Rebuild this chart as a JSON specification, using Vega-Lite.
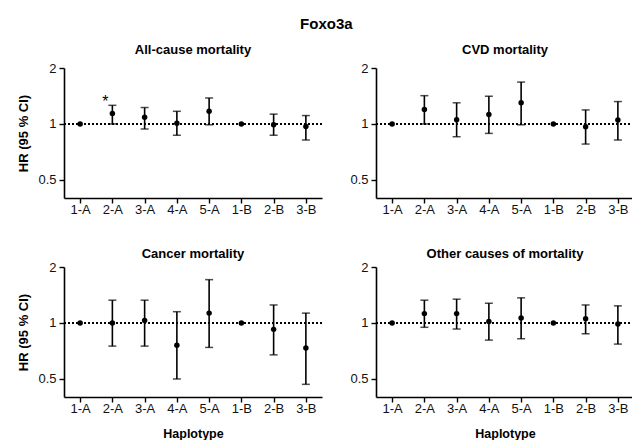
{
  "$schema": "https://vega.github.io/schema/vega-lite/v6.json",
  "padding": {"left": 17, "top": 17, "right": 0, "bottom": 0},
  "title": {"text": "Foxo3a", "fontSize": 15, "font": "Liberation Sans", "fontWeight": "bold", "anchor": "middle", "color": "black", "offset": 12},
  "config": {
    "view": {"stroke": null},
    "font": "Liberation Sans",
    "axis": {"domainColor": "black", "domainWidth": 1.6, "tickColor": "black", "tickWidth": 1.4, "tickSize": 5, "labelColor": "#111", "labelFont": "Liberation Sans", "labelFontSize": 13, "titleFont": "Liberation Sans", "titleFontSize": 13, "titleFontWeight": "bold", "titleColor": "black", "grid": false, "labelPadding": 3},
    "axisY": {"titlePadding": 7},
    "axisX": {"labelPadding": 0, "titlePadding": 12, "titleFontSize": 12.5},
    "title": {"font": "Liberation Sans", "fontSize": 13, "fontWeight": "bold", "color": "black", "offset": 5}
  },
  "datasets": {
    "hr": [
      {"cause": "All-cause mortality", "hap": "1-A", "hr": 1.0, "lo": null, "hi": null},
      {"cause": "All-cause mortality", "hap": "2-A", "hr": 1.14, "lo": 1.0, "hi": 1.26},
      {"cause": "All-cause mortality", "hap": "3-A", "hr": 1.087, "lo": 0.94, "hi": 1.226},
      {"cause": "All-cause mortality", "hap": "4-A", "hr": 1.01, "lo": 0.87, "hi": 1.17},
      {"cause": "All-cause mortality", "hap": "5-A", "hr": 1.17, "lo": 0.99, "hi": 1.38},
      {"cause": "All-cause mortality", "hap": "1-B", "hr": 1.0, "lo": null, "hi": null},
      {"cause": "All-cause mortality", "hap": "2-B", "hr": 0.99, "lo": 0.87, "hi": 1.13},
      {"cause": "All-cause mortality", "hap": "3-B", "hr": 0.97, "lo": 0.82, "hi": 1.11},
      {"cause": "CVD mortality", "hap": "1-A", "hr": 1.0, "lo": null, "hi": null},
      {"cause": "CVD mortality", "hap": "2-A", "hr": 1.196, "lo": 1.0, "hi": 1.42},
      {"cause": "CVD mortality", "hap": "3-A", "hr": 1.055, "lo": 0.854, "hi": 1.30},
      {"cause": "CVD mortality", "hap": "4-A", "hr": 1.124, "lo": 0.89, "hi": 1.41},
      {"cause": "CVD mortality", "hap": "5-A", "hr": 1.30, "lo": 0.99, "hi": 1.68},
      {"cause": "CVD mortality", "hap": "1-B", "hr": 1.0, "lo": null, "hi": null},
      {"cause": "CVD mortality", "hap": "2-B", "hr": 0.967, "lo": 0.78, "hi": 1.19},
      {"cause": "CVD mortality", "hap": "3-B", "hr": 1.05, "lo": 0.82, "hi": 1.32},
      {"cause": "Cancer mortality", "hap": "1-A", "hr": 1.0, "lo": null, "hi": null},
      {"cause": "Cancer mortality", "hap": "2-A", "hr": 1.0, "lo": 0.751, "hi": 1.326},
      {"cause": "Cancer mortality", "hap": "3-A", "hr": 1.03, "lo": 0.751, "hi": 1.326},
      {"cause": "Cancer mortality", "hap": "4-A", "hr": 0.76, "lo": 0.5, "hi": 1.15},
      {"cause": "Cancer mortality", "hap": "5-A", "hr": 1.13, "lo": 0.739, "hi": 1.71},
      {"cause": "Cancer mortality", "hap": "1-B", "hr": 1.0, "lo": null, "hi": null},
      {"cause": "Cancer mortality", "hap": "2-B", "hr": 0.924, "lo": 0.674, "hi": 1.25},
      {"cause": "Cancer mortality", "hap": "3-B", "hr": 0.733, "lo": 0.468, "hi": 1.13},
      {"cause": "Other causes of mortality", "hap": "1-A", "hr": 1.0, "lo": null, "hi": null},
      {"cause": "Other causes of mortality", "hap": "2-A", "hr": 1.123, "lo": 0.948, "hi": 1.326},
      {"cause": "Other causes of mortality", "hap": "3-A", "hr": 1.123, "lo": 0.928, "hi": 1.343},
      {"cause": "Other causes of mortality", "hap": "4-A", "hr": 1.02, "lo": 0.809, "hi": 1.277},
      {"cause": "Other causes of mortality", "hap": "5-A", "hr": 1.064, "lo": 0.823, "hi": 1.365},
      {"cause": "Other causes of mortality", "hap": "1-B", "hr": 1.0, "lo": null, "hi": null},
      {"cause": "Other causes of mortality", "hap": "2-B", "hr": 1.055, "lo": 0.875, "hi": 1.25},
      {"cause": "Other causes of mortality", "hap": "3-B", "hr": 0.988, "lo": 0.77, "hi": 1.236}
    ],
    "notes": [
      {"cause": "All-cause mortality", "hap": "2-A", "y": 1.38, "label": "*"}
    ]
  },
  "spacing": 32,
  "vconcat": [
    {
      "spacing": 26,
      "hconcat": [
        {
          "title": "All-cause mortality",
          "width": 258, "height": 130,
          "layer": [
            {"data": {"name": "hr"}, "transform": [{"filter": "datum.cause === 'All-cause mortality'"}],
             "mark": {"type": "rule", "strokeDash": [2, 2], "strokeWidth": 1.5, "color": "black"},
             "encoding": {"y": {"datum": 1, "type": "quantitative", "scale": {"type": "log", "domain": [0.4, 2], "nice": false}, "axis": {"values": [0.5, 1, 2], "format": "~g", "title": "HR (95 % CI)"}}}},
            {"data": {"name": "hr"}, "transform": [{"filter": "datum.cause === 'All-cause mortality'"}],
             "mark": {"type": "rule", "strokeWidth": 1.6, "color": "black"},
             "encoding": {"x": {"field": "hap", "type": "ordinal", "sort": ["1-A","2-A","3-A","4-A","5-A","1-B","2-B","3-B"], "scale": {"type": "point", "padding": 0.5}, "axis": {"title": null, "labelAngle": 0}},
                          "y": {"field": "lo", "type": "quantitative"}, "y2": {"field": "hi"}}},
            {"data": {"name": "hr"}, "transform": [{"filter": "datum.cause === 'All-cause mortality'"}],
             "mark": {"type": "tick", "size": 8, "thickness": 1.5, "color": "black"},
             "encoding": {"x": {"field": "hap", "type": "ordinal", "sort": ["1-A","2-A","3-A","4-A","5-A","1-B","2-B","3-B"]}, "y": {"field": "lo", "type": "quantitative"}}},
            {"data": {"name": "hr"}, "transform": [{"filter": "datum.cause === 'All-cause mortality'"}],
             "mark": {"type": "tick", "size": 8, "thickness": 1.5, "color": "black"},
             "encoding": {"x": {"field": "hap", "type": "ordinal", "sort": ["1-A","2-A","3-A","4-A","5-A","1-B","2-B","3-B"]}, "y": {"field": "hi", "type": "quantitative"}}},
            {"data": {"name": "hr"}, "transform": [{"filter": "datum.cause === 'All-cause mortality'"}],
             "mark": {"type": "point", "filled": true, "size": 30, "color": "black", "opacity": 1},
             "encoding": {"x": {"field": "hap", "type": "ordinal", "sort": ["1-A","2-A","3-A","4-A","5-A","1-B","2-B","3-B"]}, "y": {"field": "hr", "type": "quantitative"}}},
            {"data": {"name": "notes"}, "transform": [{"filter": "datum.cause === 'All-cause mortality'"}],
             "mark": {"type": "text", "fontSize": 16, "dx": -7, "dy": 4, "color": "black", "font": "Liberation Sans"},
             "encoding": {"x": {"field": "hap", "type": "ordinal", "sort": ["1-A","2-A","3-A","4-A","5-A","1-B","2-B","3-B"]}, "y": {"field": "y", "type": "quantitative"}, "text": {"field": "label"}}}
          ]
        },
        {
          "title": "CVD mortality",
          "width": 258, "height": 130,
          "layer": [
            {"data": {"name": "hr"}, "transform": [{"filter": "datum.cause === 'CVD mortality'"}],
             "mark": {"type": "rule", "strokeDash": [2, 2], "strokeWidth": 1.5, "color": "black"},
             "encoding": {"y": {"datum": 1, "type": "quantitative", "scale": {"type": "log", "domain": [0.4, 2], "nice": false}, "axis": {"values": [0.5, 1, 2], "format": "~g", "title": null}}}},
            {"data": {"name": "hr"}, "transform": [{"filter": "datum.cause === 'CVD mortality'"}],
             "mark": {"type": "rule", "strokeWidth": 1.6, "color": "black"},
             "encoding": {"x": {"field": "hap", "type": "ordinal", "sort": ["1-A","2-A","3-A","4-A","5-A","1-B","2-B","3-B"], "scale": {"type": "point", "padding": 0.5}, "axis": {"title": null, "labelAngle": 0}},
                          "y": {"field": "lo", "type": "quantitative"}, "y2": {"field": "hi"}}},
            {"data": {"name": "hr"}, "transform": [{"filter": "datum.cause === 'CVD mortality'"}],
             "mark": {"type": "tick", "size": 8, "thickness": 1.5, "color": "black"},
             "encoding": {"x": {"field": "hap", "type": "ordinal", "sort": ["1-A","2-A","3-A","4-A","5-A","1-B","2-B","3-B"]}, "y": {"field": "lo", "type": "quantitative"}}},
            {"data": {"name": "hr"}, "transform": [{"filter": "datum.cause === 'CVD mortality'"}],
             "mark": {"type": "tick", "size": 8, "thickness": 1.5, "color": "black"},
             "encoding": {"x": {"field": "hap", "type": "ordinal", "sort": ["1-A","2-A","3-A","4-A","5-A","1-B","2-B","3-B"]}, "y": {"field": "hi", "type": "quantitative"}}},
            {"data": {"name": "hr"}, "transform": [{"filter": "datum.cause === 'CVD mortality'"}],
             "mark": {"type": "point", "filled": true, "size": 30, "color": "black", "opacity": 1},
             "encoding": {"x": {"field": "hap", "type": "ordinal", "sort": ["1-A","2-A","3-A","4-A","5-A","1-B","2-B","3-B"]}, "y": {"field": "hr", "type": "quantitative"}}}
          ]
        }
      ]
    },
    {
      "spacing": 26,
      "hconcat": [
        {
          "title": {"text": "Cancer mortality", "offset": 0},
          "width": 258, "height": 130,
          "layer": [
            {"data": {"name": "hr"}, "transform": [{"filter": "datum.cause === 'Cancer mortality'"}],
             "mark": {"type": "rule", "strokeDash": [2, 2], "strokeWidth": 1.5, "color": "black"},
             "encoding": {"y": {"datum": 1, "type": "quantitative", "scale": {"type": "log", "domain": [0.4, 2], "nice": false}, "axis": {"values": [0.5, 1, 2], "format": "~g", "title": "HR (95 % CI)"}}}},
            {"data": {"name": "hr"}, "transform": [{"filter": "datum.cause === 'Cancer mortality'"}],
             "mark": {"type": "rule", "strokeWidth": 1.6, "color": "black"},
             "encoding": {"x": {"field": "hap", "type": "ordinal", "sort": ["1-A","2-A","3-A","4-A","5-A","1-B","2-B","3-B"], "scale": {"type": "point", "padding": 0.5}, "axis": {"title": "Haplotype", "labelAngle": 0}},
                          "y": {"field": "lo", "type": "quantitative"}, "y2": {"field": "hi"}}},
            {"data": {"name": "hr"}, "transform": [{"filter": "datum.cause === 'Cancer mortality'"}],
             "mark": {"type": "tick", "size": 8, "thickness": 1.5, "color": "black"},
             "encoding": {"x": {"field": "hap", "type": "ordinal", "sort": ["1-A","2-A","3-A","4-A","5-A","1-B","2-B","3-B"]}, "y": {"field": "lo", "type": "quantitative"}}},
            {"data": {"name": "hr"}, "transform": [{"filter": "datum.cause === 'Cancer mortality'"}],
             "mark": {"type": "tick", "size": 8, "thickness": 1.5, "color": "black"},
             "encoding": {"x": {"field": "hap", "type": "ordinal", "sort": ["1-A","2-A","3-A","4-A","5-A","1-B","2-B","3-B"]}, "y": {"field": "hi", "type": "quantitative"}}},
            {"data": {"name": "hr"}, "transform": [{"filter": "datum.cause === 'Cancer mortality'"}],
             "mark": {"type": "point", "filled": true, "size": 30, "color": "black", "opacity": 1},
             "encoding": {"x": {"field": "hap", "type": "ordinal", "sort": ["1-A","2-A","3-A","4-A","5-A","1-B","2-B","3-B"]}, "y": {"field": "hr", "type": "quantitative"}}}
          ]
        },
        {
          "title": {"text": "Other causes of mortality", "offset": 0},
          "width": 258, "height": 130,
          "layer": [
            {"data": {"name": "hr"}, "transform": [{"filter": "datum.cause === 'Other causes of mortality'"}],
             "mark": {"type": "rule", "strokeDash": [2, 2], "strokeWidth": 1.5, "color": "black"},
             "encoding": {"y": {"datum": 1, "type": "quantitative", "scale": {"type": "log", "domain": [0.4, 2], "nice": false}, "axis": {"values": [0.5, 1, 2], "format": "~g", "title": null}}}},
            {"data": {"name": "hr"}, "transform": [{"filter": "datum.cause === 'Other causes of mortality'"}],
             "mark": {"type": "rule", "strokeWidth": 1.6, "color": "black"},
             "encoding": {"x": {"field": "hap", "type": "ordinal", "sort": ["1-A","2-A","3-A","4-A","5-A","1-B","2-B","3-B"], "scale": {"type": "point", "padding": 0.5}, "axis": {"title": "Haplotype", "labelAngle": 0}},
                          "y": {"field": "lo", "type": "quantitative"}, "y2": {"field": "hi"}}},
            {"data": {"name": "hr"}, "transform": [{"filter": "datum.cause === 'Other causes of mortality'"}],
             "mark": {"type": "tick", "size": 8, "thickness": 1.5, "color": "black"},
             "encoding": {"x": {"field": "hap", "type": "ordinal", "sort": ["1-A","2-A","3-A","4-A","5-A","1-B","2-B","3-B"]}, "y": {"field": "lo", "type": "quantitative"}}},
            {"data": {"name": "hr"}, "transform": [{"filter": "datum.cause === 'Other causes of mortality'"}],
             "mark": {"type": "tick", "size": 8, "thickness": 1.5, "color": "black"},
             "encoding": {"x": {"field": "hap", "type": "ordinal", "sort": ["1-A","2-A","3-A","4-A","5-A","1-B","2-B","3-B"]}, "y": {"field": "hi", "type": "quantitative"}}},
            {"data": {"name": "hr"}, "transform": [{"filter": "datum.cause === 'Other causes of mortality'"}],
             "mark": {"type": "point", "filled": true, "size": 30, "color": "black", "opacity": 1},
             "encoding": {"x": {"field": "hap", "type": "ordinal", "sort": ["1-A","2-A","3-A","4-A","5-A","1-B","2-B","3-B"]}, "y": {"field": "hr", "type": "quantitative"}}}
          ]
        }
      ]
    }
  ]
}
